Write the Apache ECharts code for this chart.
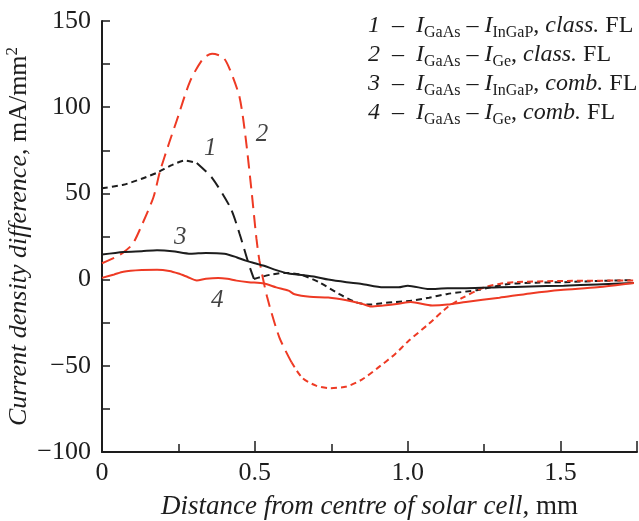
<!DOCTYPE html>
<html>
<head>
<meta charset="utf-8">
<script src="https://cdn.jsdelivr.net/npm/echarts@6/dist/echarts.min.js"></script>
<style>
  html, body { margin: 0; padding: 0; background: #fff; }
  #chart { width: 639px; height: 521px; }
</style>
</head>
<body>
<div id="chart"></div>
<script>
// curve 1: I_GaAs - I_InGaP, class. FL
const curve1 = [
    [0, 53], [0.07, 55], [0.13, 58.5], [0.18, 62], [0.23, 66.5], [0.27, 69], [0.31, 67.7],
    [0.36, 59], [0.42, 41.7], [0.45, 26.6], [0.48, 9], [0.497, 0.4], [0.52, 1.5], [0.55, 2.8],
    [0.597, 3.9], [0.65, 2.9], [0.71, -1.5], [0.775, -8.3], [0.83, -13.1], [0.873, -14.5],
    [0.915, -13.7], [0.96, -13], [1.013, -12.2], [1.07, -10.5], [1.13, -8.3], [1.23, -6],
    [1.33, -2.5], [1.42, -1.8], [1.51, -1.5], [1.62, -0.8], [1.74, -0.3]
];
// curve 2: I_GaAs - I_Ge, class. FL
const curve2 = [
    [0, 9.5], [0.043, 12.9], [0.07, 15.8], [0.1, 20.6], [0.125, 29.5], [0.168, 47.6],
    [0.19, 63], [0.22, 79.5], [0.244, 92], [0.288, 115], [0.33, 128], [0.36, 131],
    [0.396, 129], [0.418, 122], [0.45, 105.8], [0.47, 82], [0.49, 50], [0.505, 24],
    [0.515, 11], [0.54, -10], [0.58, -33.5], [0.62, -48], [0.655, -57], [0.7, -61.5],
    [0.745, -63], [0.8, -62], [0.85, -58], [0.9, -51.5], [0.96, -43], [1.0, -36],
    [1.07, -25.5], [1.13, -16], [1.18, -10.5], [1.25, -4.5], [1.3, -2.5], [1.35, -1.5],
    [1.5, -0.8], [1.74, -0.5]
];
// curve 3: I_GaAs - I_InGaP, comb. FL
const curve3 = [
    [0, 14.5], [0.07, 16], [0.13, 16.5], [0.18, 17], [0.23, 16.5], [0.29, 15], [0.34, 15.5],
    [0.4, 15], [0.44, 13], [0.47, 11], [0.5, 9.5], [0.53, 8], [0.57, 5.5], [0.61, 3.5],
    [0.66, 2.5], [0.7, 1.5], [0.74, 0], [0.8, -1.5], [0.85, -2.5], [0.92, -4.5], [0.97, -4.5],
    [1.0, -3.5], [1.07, -5.5], [1.13, -5], [1.19, -5], [1.3, -4.5], [1.4, -4], [1.51, -3.5],
    [1.62, -2.8], [1.74, -2]
];
// curve 4: I_GaAs - I_Ge, comb. FL
const curve4 = [
    [0, 1], [0.04, 3], [0.07, 4.6], [0.13, 5.5], [0.18, 5.7], [0.22, 5], [0.25, 3.5],
    [0.28, 1.5], [0.31, -0.5], [0.34, 0.5], [0.38, 1], [0.41, 0.5], [0.44, -0.6], [0.48, -1.5],
    [0.53, -2.3], [0.57, -4.5], [0.61, -6.4], [0.63, -8.5], [0.68, -10], [0.74, -10.4],
    [0.8, -12], [0.85, -14], [0.88, -15.6], [0.92, -15], [0.97, -14], [1.01, -13], [1.08, -15],
    [1.13, -14.5], [1.19, -13], [1.3, -10.5], [1.4, -8], [1.5, -6], [1.62, -4.5], [1.74, -2]
];
// curve numbers written next to the lines
const curveTags = [
    { name: '1', value: [0.354, 76] },
    { name: '2', value: [0.523, 84] },
    { name: '3', value: [0.256, 24.5] },
    { name: '4', value: [0.377, -12.2] }
];
const legendRows = [
    ['1', 'GaAs', 'InGaP', 'class.'],
    ['2', 'GaAs', 'Ge', 'class.'],
    ['3', 'GaAs', 'InGaP', 'comb.'],
    ['4', 'GaAs', 'Ge', 'comb.']
];

const SERIF = 'Liberation Serif';
const RED = '#ee3a24';
const BLACK = '#1d1d1d';
const SHORT = [6, 4];
const LONG = [13, 7];

function part(data, from, to) {
    return data.filter(p => p[0] >= from && p[0] <= to);
}

function lineSeries(data, color, type) {
    return {
        type: 'line',
        data: data,
        symbol: 'none',
        smooth: 0.25,
        silent: true,
        lineStyle: { color: color, width: 2, type: type }
    };
}

const legendText = legendRows.map(r =>
    `{n|${r[0]}}{r|  –  }{i|I}{s|${r[1]}}{r| – }{i|I}{s|${r[2]}}{r|, }{i|${r[3]}}{r| FL}`
).join('\n');

const chart = echarts.init(document.getElementById('chart'));

chart.setOption({
    backgroundColor: '#fff',
    animation: false,
    grid: { left: 102, right: 2, top: 21, bottom: 69, outerBoundsMode: 'none', containLabel: false },
    xAxis: {
        type: 'value',
        min: 0,
        max: 1.75,
        interval: 0.5,
        name: '{i|Distance from centre of solar cell}{r|, mm}',
        nameLocation: 'middle',
        nameGap: 41,
        nameTextStyle: {
            rich: {
                i: { fontFamily: SERIF, fontStyle: 'italic', fontSize: 27, color: BLACK },
                r: { fontFamily: SERIF, fontSize: 27, color: BLACK }
            }
        },
        axisLine: { onZero: false, lineStyle: { color: BLACK, width: 2 } },
        axisTick: { inside: true, length: 11, lineStyle: { color: BLACK, width: 1.5 } },
        minorTick: { show: true, splitNumber: 2, length: 8, lineStyle: { color: BLACK, width: 1.5 } },
        splitLine: { show: false },
        axisLabel: {
            fontFamily: SERIF, fontSize: 26, color: BLACK, margin: 8,
            showMaxLabel: false,
            formatter: v => v === 0 ? '0' : v.toFixed(1)
        }
    },
    yAxis: {
        type: 'value',
        min: -100,
        max: 150,
        interval: 50,
        name: '{i|Current density difference}{r|, mA/mm}{p|2}',
        nameLocation: 'middle',
        nameGap: 68,
        nameMoveOverlap: false,
        nameTextStyle: {
            rich: {
                i: { fontFamily: SERIF, fontStyle: 'italic', fontSize: 26, color: BLACK, lineHeight: 30 },
                r: { fontFamily: SERIF, fontSize: 26, color: BLACK, lineHeight: 30 },
                p: { fontFamily: SERIF, fontSize: 17, color: BLACK, verticalAlign: 'top', lineHeight: 20 }
            }
        },
        axisLine: { show: true, onZero: false, lineStyle: { color: BLACK, width: 2 } },
        axisTick: { inside: true, length: 8, lineStyle: { color: BLACK, width: 1.5 } },
        minorTick: { show: true, splitNumber: 2, length: 8, lineStyle: { color: BLACK, width: 1.5 } },
        splitLine: { show: false },
        axisLabel: {
            fontFamily: SERIF, fontSize: 26, color: BLACK, margin: 11,
            formatter: v => v < 0 ? '\u2212' + Math.abs(v) : String(v)
        }
    },
    graphic: [{
        type: 'text',
        left: 368,
        top: 14,
        style: {
            text: legendText,
            fill: BLACK,
            rich: {
                n: { fontFamily: SERIF, fontStyle: 'italic', fontSize: 24, lineHeight: 29, fill: BLACK },
                r: { fontFamily: SERIF, fontSize: 24, lineHeight: 29, fill: BLACK },
                i: { fontFamily: SERIF, fontStyle: 'italic', fontSize: 24, lineHeight: 29, fill: BLACK },
                s: { fontFamily: SERIF, fontSize: 16, lineHeight: 16, verticalAlign: 'bottom', fill: BLACK }
            }
        }
    }],
    series: [
        lineSeries(part(curve1, 0, 0.31), BLACK, SHORT),
        lineSeries(part(curve1, 0.31, 0.497), BLACK, LONG),
        lineSeries(part(curve1, 0.497, 2), BLACK, SHORT),
        lineSeries(part(curve2, 0, 0.62), RED, LONG),
        lineSeries(part(curve2, 0.62, 2), RED, SHORT),
        lineSeries(curve3, BLACK, 'solid'),
        lineSeries(curve4, RED, 'solid'),
        {
            type: 'scatter',
            data: curveTags,
            symbolSize: 1,
            silent: true,
            itemStyle: { color: 'rgba(0,0,0,0)' },
            label: {
                show: true,
                position: 'inside',
                formatter: '{b}',
                fontFamily: SERIF,
                fontStyle: 'italic',
                fontSize: 25,
                color: '#111'
            }
        }
    ]
});
</script>
</body>
</html>
